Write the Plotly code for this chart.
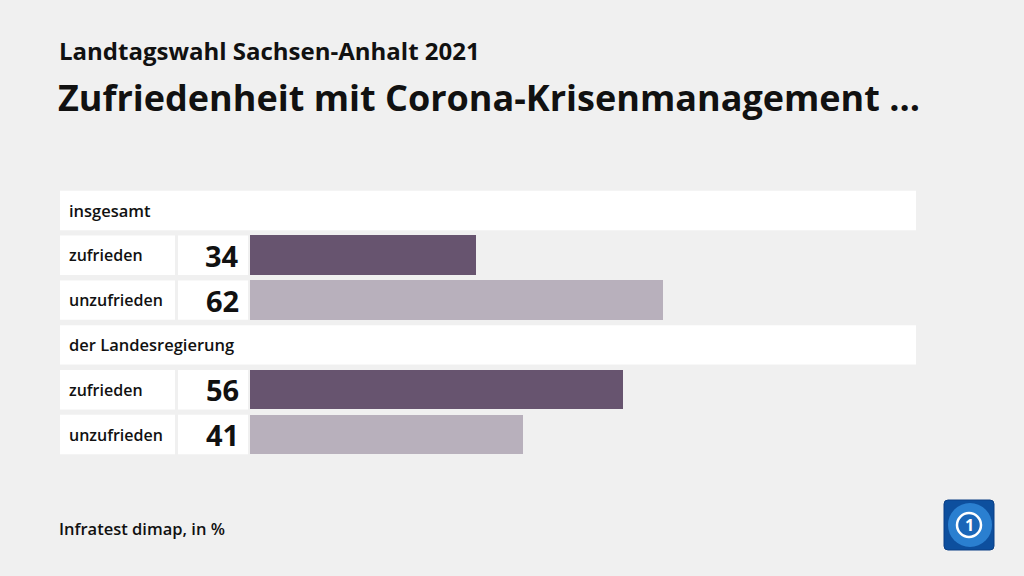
import plotly.graph_objects as go

W, H = 1024, 576

# data
groups = ["insgesamt", "der Landesregierung"]
answers = ["zufrieden", "unzufrieden"]
values = [[34, 62], [56, 41]]
bar_colors = ["#67546f", "#b8b0bc"]

BG = "#f0f0f0"
FONT = "Open Sans"


def px(x):
    return x / W


def py(y):
    return 1 - y / H


# build rows: a header row per group, then one row per answer
rows = []
for g, vals in zip(groups, values):
    rows.append(("header", g, None, None))
    for i, (a, v) in enumerate(zip(answers, vals)):
        rows.append(("bar", a, v, bar_colors[i]))

n = len(rows)
top, bottom = 188.1, 456.9  # pixel extent of the row block

fig = go.Figure()

bar_idx = [i for i, r in enumerate(rows) if r[0] == "bar"]
fig.add_trace(go.Bar(
    x=[rows[i][2] for i in bar_idx],
    y=bar_idx,
    orientation="h",
    marker=dict(color=[rows[i][3] for i in bar_idx], line=dict(width=0)),
    width=0.885,
    hoverinfo="skip",
    showlegend=False,
))

shapes = []
annotations = []
half = 0.44
for i, (kind, label, val, col) in enumerate(rows):
    if kind == "header":
        shapes.append(dict(type="rect", xref="paper", yref="y", x0=px(60), x1=px(916),
                           y0=i - half, y1=i + half, fillcolor="white", line_width=0, layer="below"))
        annotations.append(dict(xref="paper", yref="y", x=px(67), y=i, text=label, showarrow=False,
                                xanchor="left", yanchor="middle",
                                font=dict(family=FONT, size=16.5, color="#111", weight=600)))
    else:
        shapes.append(dict(type="rect", xref="paper", yref="y", x0=px(60), x1=px(175),
                           y0=i - half, y1=i + half, fillcolor="white", line_width=0, layer="below"))
        shapes.append(dict(type="rect", xref="paper", yref="y", x0=px(178), x1=px(248),
                           y0=i - half, y1=i + half, fillcolor="white", line_width=0, layer="below"))
        annotations.append(dict(xref="paper", yref="y", x=px(67), y=i, text=label, showarrow=False,
                                xanchor="left", yanchor="middle",
                                font=dict(family=FONT, size=16, color="#111", weight=600)))
        annotations.append(dict(xref="paper", yref="y", x=px(241), y=i, text=str(val), showarrow=False,
                                xanchor="right", yanchor="middle",
                                font=dict(family=FONT, size=29, color="#111", weight=700)))

# titles and source
annotations.append(dict(xref="paper", yref="paper", x=px(57), y=py(51), text="Landtagswahl Sachsen-Anhalt 2021",
                        showarrow=False, xanchor="left", yanchor="middle",
                        font=dict(family=FONT, size=24, color="#111", weight=700)))
annotations.append(dict(xref="paper", yref="paper", x=px(56), y=py(98),
                        text="Zufriedenheit mit Corona-Krisenmanagement ...",
                        showarrow=False, xanchor="left", yanchor="middle",
                        font=dict(family=FONT, size=36, color="#111", weight=700)))
annotations.append(dict(xref="paper", yref="paper", x=px(57), y=py(528), text="Infratest dimap, in %",
                        showarrow=False, xanchor="left", yanchor="middle",
                        font=dict(family=FONT, size=16.5, color="#111", weight=600)))

# logo: rounded blue tile with globe and ring
x0, x1, y0, y1, r = px(944), px(994), py(550), py(500), 4
rx, ry = r / W, r / H
tile = (f"M {x0+rx},{y0} L {x1-rx},{y0} Q {x1},{y0} {x1},{y0+ry} L {x1},{y1-ry} "
        f"Q {x1},{y1} {x1-rx},{y1} L {x0+rx},{y1} Q {x0},{y1} {x0},{y1-ry} "
        f"L {x0},{y0+ry} Q {x0},{y0} {x0+rx},{y0} Z")
shapes.append(dict(type="path", xref="paper", yref="paper", path=tile,
                   fillcolor="#0d4f9e", line=dict(color="#0a3f85", width=1)))
shapes.append(dict(type="circle", xref="paper", yref="paper", x0=px(948), x1=px(992), y0=py(547), y1=py(503),
                   fillcolor="#2a7fd0", line_width=0))
shapes.append(dict(type="circle", xref="paper", yref="paper", x0=px(957), x1=px(981), y0=py(537), y1=py(513),
                   fillcolor="#1a66b8", line=dict(color="white", width=2.5)))
annotations.append(dict(xref="paper", yref="paper", x=px(969), y=py(525), text="1", showarrow=False,
                        xanchor="center", yanchor="middle",
                        font=dict(family=FONT, size=16, color="white", weight=700)))

fig.update_layout(
    width=W, height=H,
    margin=dict(l=0, r=0, t=0, b=0),
    paper_bgcolor=BG, plot_bgcolor="rgba(0,0,0,0)",
    xaxis=dict(domain=[px(250), px(916)], range=[0, 100], visible=False, fixedrange=True),
    yaxis=dict(domain=[py(bottom), py(top)], range=[n - 0.5, -0.5], visible=False, fixedrange=True),
    shapes=shapes,
    annotations=annotations,
    bargap=0,
)

fig.write_html("out.html", config={"displayModeBar": False},
               post_script="document.body.style.margin='0';")
